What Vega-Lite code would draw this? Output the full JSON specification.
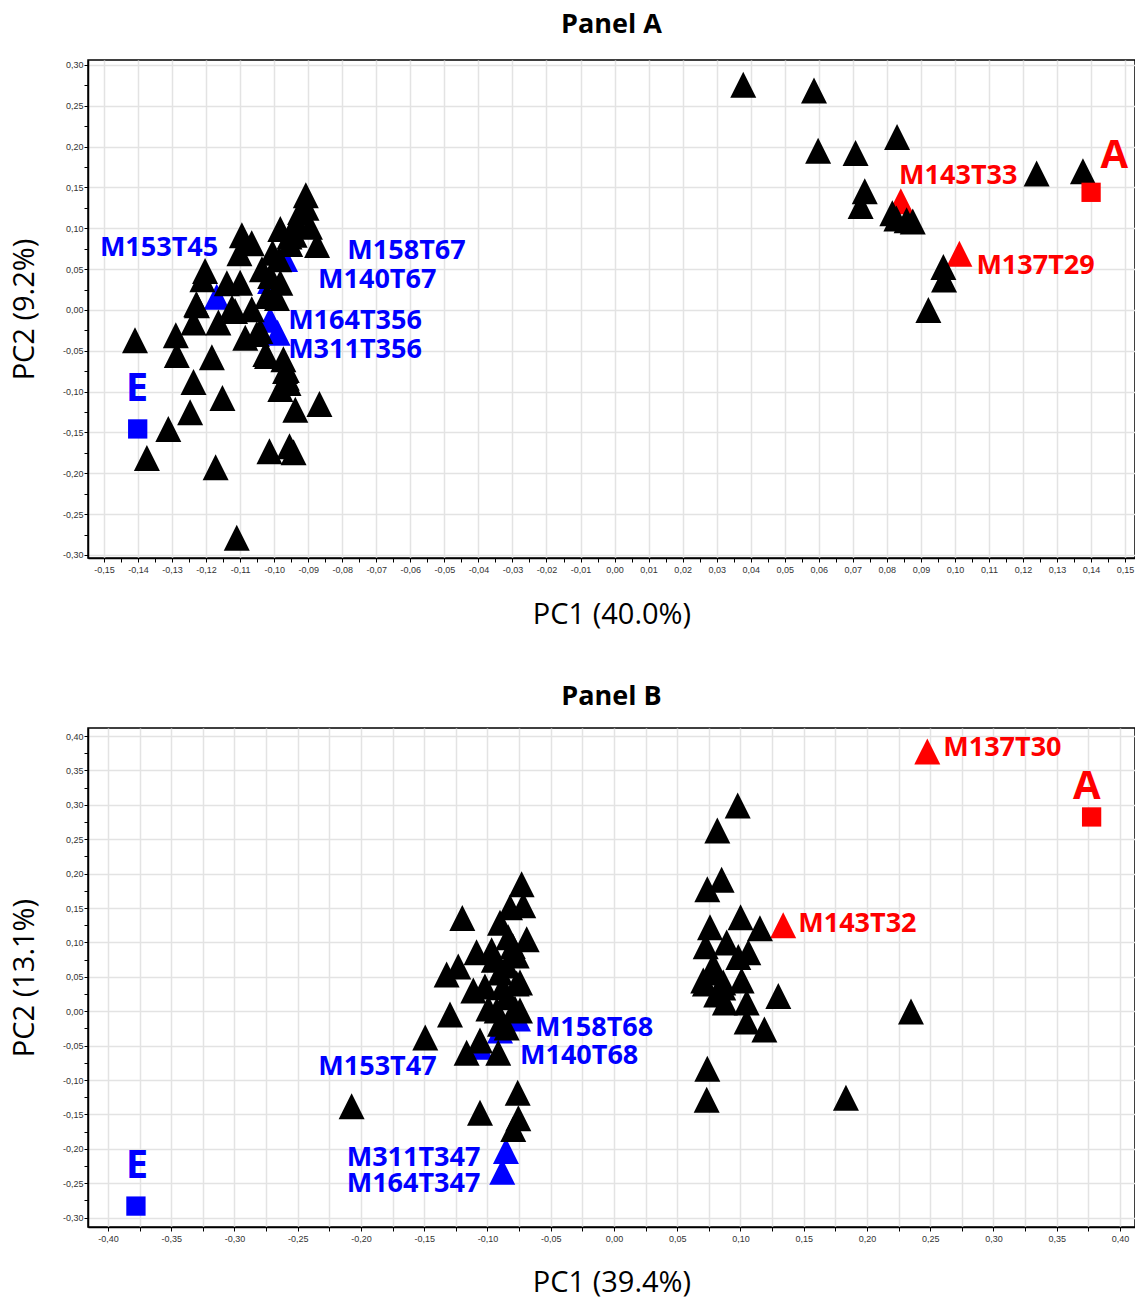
{
  "$schema": "https://vega.github.io/schema/vega-lite/v6.json",
  "background": "white",
  "padding": {"left": 9, "top": 10, "right": 0, "bottom": 0},
  "spacing": 52,
  "config": {
    "view": {"stroke": "black", "strokeWidth": 1.5},
    "axis": {
      "labelFont": "Liberation Sans", "labelFontSize": 9, "labelColor": "#333333",
      "labelPadding": 1, "labelOverlap": false, "labelFlush": false,
      "domainColor": "black", "domainWidth": 1.5,
      "tickColor": "black", "tickSize": 4, "tickWidth": 1,
      "gridColor": "#e3e3e3", "gridWidth": 1.5,
      "titleFont": "Open Sans", "titleFontSize": 29, "titleFontWeight": "normal", "titleColor": "black"
    },
    "axisX": {"titlePadding": 26, "labelPadding": 3},
    "axisY": {"titlePadding": 23},
    "title": {"font": "Open Sans", "fontSize": 27, "fontWeight": "bold", "color": "black"}
  },
  "datasets": {
    "pointsA": [
      {"pc1": 0.0378, "pc2": 0.2757, "group": "none", "type": "feature"},
      {"pc1": 0.0586, "pc2": 0.2686, "group": "none", "type": "feature"},
      {"pc1": 0.0598, "pc2": 0.1949, "group": "none", "type": "feature"},
      {"pc1": 0.0708, "pc2": 0.192, "group": "none", "type": "feature"},
      {"pc1": 0.083, "pc2": 0.2116, "group": "none", "type": "feature"},
      {"pc1": 0.124, "pc2": 0.1669, "group": "none", "type": "feature"},
      {"pc1": 0.1376, "pc2": 0.1699, "group": "none", "type": "feature"},
      {"pc1": 0.0735, "pc2": 0.1454, "group": "none", "type": "feature"},
      {"pc1": 0.0723, "pc2": 0.1272, "group": "none", "type": "feature"},
      {"pc1": 0.0816, "pc2": 0.1185, "group": "none", "type": "feature"},
      {"pc1": 0.0828, "pc2": 0.112, "group": "none", "type": "feature"},
      {"pc1": 0.0858, "pc2": 0.1099, "group": "none", "type": "feature"},
      {"pc1": 0.0876, "pc2": 0.1083, "group": "none", "type": "feature"},
      {"pc1": 0.0966, "pc2": 0.0525, "group": "none", "type": "feature"},
      {"pc1": 0.0968, "pc2": 0.0372, "group": "none", "type": "feature"},
      {"pc1": 0.0922, "pc2": 0.0, "group": "none", "type": "feature"},
      {"pc1": -0.1409, "pc2": -0.0371, "group": "none", "type": "feature"},
      {"pc1": -0.1289, "pc2": -0.031, "group": "none", "type": "feature"},
      {"pc1": -0.1286, "pc2": -0.0551, "group": "none", "type": "feature"},
      {"pc1": -0.1237, "pc2": -0.0882, "group": "none", "type": "feature"},
      {"pc1": -0.1247, "pc2": -0.1253, "group": "none", "type": "feature"},
      {"pc1": -0.1311, "pc2": -0.1457, "group": "none", "type": "feature"},
      {"pc1": -0.1374, "pc2": -0.1812, "group": "none", "type": "feature"},
      {"pc1": -0.1183, "pc2": -0.058, "group": "none", "type": "feature"},
      {"pc1": -0.1152, "pc2": -0.1078, "group": "none", "type": "feature"},
      {"pc1": -0.1172, "pc2": -0.1926, "group": "none", "type": "feature"},
      {"pc1": -0.111, "pc2": -0.2788, "group": "none", "type": "feature"},
      {"pc1": -0.1014, "pc2": -0.173, "group": "none", "type": "feature"},
      {"pc1": -0.0955, "pc2": -0.1669, "group": "none", "type": "feature"},
      {"pc1": -0.0943, "pc2": -0.1743, "group": "none", "type": "feature"},
      {"pc1": -0.0867, "pc2": -0.1151, "group": "none", "type": "feature"},
      {"pc1": -0.0938, "pc2": -0.1221, "group": "none", "type": "feature"},
      {"pc1": -0.0982, "pc2": -0.0967, "group": "none", "type": "feature"},
      {"pc1": -0.0968, "pc2": -0.0747, "group": "none", "type": "feature"},
      {"pc1": -0.0963, "pc2": -0.0829, "group": "none", "type": "feature"},
      {"pc1": -0.1021, "pc2": -0.0563, "group": "none", "type": "feature"},
      {"pc1": -0.1085, "pc2": -0.0339, "group": "none", "type": "feature"},
      {"pc1": -0.1041, "pc2": -0.0257, "group": "none", "type": "feature"},
      {"pc1": -0.1164, "pc2": -0.0155, "group": "none", "type": "feature"},
      {"pc1": -0.1237, "pc2": -0.0155, "group": "none", "type": "feature"},
      {"pc1": -0.1229, "pc2": 0.007, "group": "none", "type": "feature"},
      {"pc1": -0.1115, "pc2": -0.0012, "group": "none", "type": "feature"},
      {"pc1": -0.0907, "pc2": 0.1405, "group": "none", "type": "feature"},
      {"pc1": -0.0924, "pc2": 0.12, "group": "none", "type": "feature"},
      {"pc1": -0.0905, "pc2": 0.125, "group": "none", "type": "feature"},
      {"pc1": -0.0935, "pc2": 0.108, "group": "none", "type": "feature"},
      {"pc1": -0.0895, "pc2": 0.102, "group": "none", "type": "feature"},
      {"pc1": -0.094, "pc2": 0.092, "group": "none", "type": "feature"},
      {"pc1": -0.0955, "pc2": 0.09, "group": "none", "type": "feature"},
      {"pc1": -0.0874, "pc2": 0.0796, "group": "none", "type": "feature"},
      {"pc1": -0.0982, "pc2": 0.0992, "group": "none", "type": "feature"},
      {"pc1": -0.0953, "pc2": 0.0808, "group": "none", "type": "feature"},
      {"pc1": -0.1005, "pc2": 0.07, "group": "none", "type": "feature"},
      {"pc1": -0.0985, "pc2": 0.062, "group": "none", "type": "feature"},
      {"pc1": -0.1095, "pc2": 0.0914, "group": "none", "type": "feature"},
      {"pc1": -0.1066, "pc2": 0.0817, "group": "none", "type": "feature"},
      {"pc1": -0.1102, "pc2": 0.0694, "group": "none", "type": "feature"},
      {"pc1": -0.1203, "pc2": 0.0478, "group": "none", "type": "feature"},
      {"pc1": -0.1211, "pc2": 0.0376, "group": "none", "type": "feature"},
      {"pc1": -0.1139, "pc2": 0.0327, "group": "none", "type": "feature"},
      {"pc1": -0.11, "pc2": 0.0334, "group": "none", "type": "feature"},
      {"pc1": -0.1036, "pc2": 0.0498, "group": "none", "type": "feature"},
      {"pc1": -0.1012, "pc2": 0.0416, "group": "none", "type": "feature"},
      {"pc1": -0.0982, "pc2": 0.0334, "group": "none", "type": "feature"},
      {"pc1": -0.1227, "pc2": 0.0058, "group": "none", "type": "feature"},
      {"pc1": -0.1124, "pc2": 0.0028, "group": "none", "type": "feature"},
      {"pc1": -0.1066, "pc2": 0.0008, "group": "none", "type": "feature"},
      {"pc1": -0.1021, "pc2": 0.0171, "group": "none", "type": "feature"},
      {"pc1": -0.0992, "pc2": 0.0147, "group": "none", "type": "feature"},
      {"pc1": -0.1051, "pc2": -0.0294, "group": "none", "type": "feature"},
      {"pc1": -0.1026, "pc2": -0.0539, "group": "none", "type": "feature"},
      {"pc1": -0.0973, "pc2": -0.0604, "group": "none", "type": "feature"},
      {"pc1": -0.0963, "pc2": -0.0735, "group": "none", "type": "feature"},
      {"pc1": -0.0958, "pc2": -0.0894, "group": "none", "type": "feature"},
      {"pc1": 0.0841, "pc2": 0.1332, "group": "A", "type": "feature"},
      {"pc1": 0.1013, "pc2": 0.0688, "group": "A", "type": "feature"},
      {"pc1": -0.1169, "pc2": 0.016, "group": "E", "type": "feature"},
      {"pc1": -0.0968, "pc2": 0.0624, "group": "E", "type": "feature"},
      {"pc1": -0.1012, "pc2": 0.0355, "group": "E", "type": "feature"},
      {"pc1": -0.1012, "pc2": -0.012, "group": "E", "type": "feature"},
      {"pc1": -0.099, "pc2": -0.028, "group": "E", "type": "feature"},
      {"pc1": 0.14, "pc2": 0.144, "group": "A", "type": "reference"},
      {"pc1": -0.1401, "pc2": -0.1457, "group": "E", "type": "reference"}
    ],
    "labelsA": [
      {"pc1": -0.1512, "pc2": 0.0759, "label": "M153T45", "group": "E", "type": "feature"},
      {"pc1": -0.0785, "pc2": 0.0722, "label": "M158T67", "group": "E", "type": "feature"},
      {"pc1": -0.0871, "pc2": 0.0367, "label": "M140T67", "group": "E", "type": "feature"},
      {"pc1": -0.0959, "pc2": -0.0135, "label": "M164T356", "group": "E", "type": "feature"},
      {"pc1": -0.0959, "pc2": -0.049, "label": "M311T356", "group": "E", "type": "feature"},
      {"pc1": 0.0836, "pc2": 0.1634, "label": "M143T33", "group": "A", "type": "feature"},
      {"pc1": 0.1063, "pc2": 0.0543, "label": "M137T29", "group": "A", "type": "feature"},
      {"pc1": -0.1403, "pc2": -0.0967, "label": "E", "group": "E", "type": "reference"},
      {"pc1": 0.1468, "pc2": 0.1879, "label": "A", "group": "A", "type": "reference"}
    ],
    "pointsB": [
      {"pc1": -0.073, "pc2": 0.1847, "group": "none", "type": "feature"},
      {"pc1": -0.0717, "pc2": 0.154, "group": "none", "type": "feature"},
      {"pc1": -0.0822, "pc2": 0.151, "group": "none", "type": "feature"},
      {"pc1": -0.1199, "pc2": 0.1356, "group": "none", "type": "feature"},
      {"pc1": -0.0901, "pc2": 0.1286, "group": "none", "type": "feature"},
      {"pc1": -0.069, "pc2": 0.1045, "group": "none", "type": "feature"},
      {"pc1": -0.0836, "pc2": 0.1074, "group": "none", "type": "feature"},
      {"pc1": -0.08, "pc2": 0.095, "group": "none", "type": "feature"},
      {"pc1": -0.0967, "pc2": 0.0885, "group": "none", "type": "feature"},
      {"pc1": -0.1086, "pc2": 0.0856, "group": "none", "type": "feature"},
      {"pc1": -0.095, "pc2": 0.075, "group": "none", "type": "feature"},
      {"pc1": -0.1231, "pc2": 0.0652, "group": "none", "type": "feature"},
      {"pc1": -0.1323, "pc2": 0.0535, "group": "none", "type": "feature"},
      {"pc1": -0.0769, "pc2": 0.0812, "group": "none", "type": "feature"},
      {"pc1": -0.0848, "pc2": 0.0666, "group": "none", "type": "feature"},
      {"pc1": -0.0901, "pc2": 0.0564, "group": "none", "type": "feature"},
      {"pc1": -0.0743, "pc2": 0.0418, "group": "none", "type": "feature"},
      {"pc1": -0.0769, "pc2": 0.0404, "group": "none", "type": "feature"},
      {"pc1": -0.088, "pc2": 0.035, "group": "none", "type": "feature"},
      {"pc1": -0.1112, "pc2": 0.0302, "group": "none", "type": "feature"},
      {"pc1": -0.102, "pc2": 0.036, "group": "none", "type": "feature"},
      {"pc1": -0.0848, "pc2": 0.0204, "group": "none", "type": "feature"},
      {"pc1": -0.0993, "pc2": 0.0039, "group": "none", "type": "feature"},
      {"pc1": -0.0783, "pc2": 0.0039, "group": "none", "type": "feature"},
      {"pc1": -0.0927, "pc2": 0.001, "group": "none", "type": "feature"},
      {"pc1": -0.0743, "pc2": 0.001, "group": "none", "type": "feature"},
      {"pc1": -0.1296, "pc2": -0.0048, "group": "none", "type": "feature"},
      {"pc1": -0.0901, "pc2": -0.018, "group": "none", "type": "feature"},
      {"pc1": -0.0848, "pc2": -0.0238, "group": "none", "type": "feature"},
      {"pc1": -0.1492, "pc2": -0.0383, "group": "none", "type": "feature"},
      {"pc1": -0.1165, "pc2": -0.0602, "group": "none", "type": "feature"},
      {"pc1": -0.1059, "pc2": -0.0427, "group": "none", "type": "feature"},
      {"pc1": -0.0915, "pc2": -0.0602, "group": "none", "type": "feature"},
      {"pc1": -0.2074, "pc2": -0.1382, "group": "none", "type": "feature"},
      {"pc1": -0.1059, "pc2": -0.1477, "group": "none", "type": "feature"},
      {"pc1": -0.0761, "pc2": -0.1185, "group": "none", "type": "feature"},
      {"pc1": -0.0756, "pc2": -0.1557, "group": "none", "type": "feature"},
      {"pc1": -0.0796, "pc2": -0.171, "group": "none", "type": "feature"},
      {"pc1": 0.0978, "pc2": 0.2991, "group": "none", "type": "feature"},
      {"pc1": 0.0817, "pc2": 0.2627, "group": "none", "type": "feature"},
      {"pc1": 0.0851, "pc2": 0.191, "group": "none", "type": "feature"},
      {"pc1": 0.0738, "pc2": 0.1774, "group": "none", "type": "feature"},
      {"pc1": 0.1001, "pc2": 0.1366, "group": "none", "type": "feature"},
      {"pc1": 0.1154, "pc2": 0.1206, "group": "none", "type": "feature"},
      {"pc1": 0.0759, "pc2": 0.122, "group": "none", "type": "feature"},
      {"pc1": 0.0891, "pc2": 0.1001, "group": "none", "type": "feature"},
      {"pc1": 0.0725, "pc2": 0.0943, "group": "none", "type": "feature"},
      {"pc1": 0.1062, "pc2": 0.0856, "group": "none", "type": "feature"},
      {"pc1": 0.0983, "pc2": 0.0787, "group": "none", "type": "feature"},
      {"pc1": 0.0785, "pc2": 0.0666, "group": "none", "type": "feature"},
      {"pc1": 0.0785, "pc2": 0.0564, "group": "none", "type": "feature"},
      {"pc1": 0.0706, "pc2": 0.0448, "group": "none", "type": "feature"},
      {"pc1": 0.0719, "pc2": 0.0402, "group": "none", "type": "feature"},
      {"pc1": 0.0864, "pc2": 0.0418, "group": "none", "type": "feature"},
      {"pc1": 0.0864, "pc2": 0.0345, "group": "none", "type": "feature"},
      {"pc1": 0.1009, "pc2": 0.0448, "group": "none", "type": "feature"},
      {"pc1": 0.0808, "pc2": 0.0245, "group": "none", "type": "feature"},
      {"pc1": 0.0877, "pc2": 0.0127, "group": "none", "type": "feature"},
      {"pc1": 0.1049, "pc2": 0.0127, "group": "none", "type": "feature"},
      {"pc1": 0.1299, "pc2": 0.0222, "group": "none", "type": "feature"},
      {"pc1": 0.1049, "pc2": -0.015, "group": "none", "type": "feature"},
      {"pc1": 0.1189, "pc2": -0.0267, "group": "none", "type": "feature"},
      {"pc1": 0.2348, "pc2": -0.0004, "group": "none", "type": "feature"},
      {"pc1": 0.0738, "pc2": -0.0835, "group": "none", "type": "feature"},
      {"pc1": 0.0733, "pc2": -0.1287, "group": "none", "type": "feature"},
      {"pc1": 0.1834, "pc2": -0.1258, "group": "none", "type": "feature"},
      {"pc1": 0.1338, "pc2": 0.1249, "group": "A", "type": "feature"},
      {"pc1": 0.2477, "pc2": 0.3776, "group": "A", "type": "feature"},
      {"pc1": -0.0854, "pc2": -0.2031, "group": "E", "type": "feature"},
      {"pc1": -0.0883, "pc2": -0.2334, "group": "E", "type": "feature"},
      {"pc1": -0.0759, "pc2": -0.0106, "group": "E", "type": "feature"},
      {"pc1": -0.0901, "pc2": -0.0281, "group": "E", "type": "feature"},
      {"pc1": -0.1059, "pc2": -0.0515, "group": "E", "type": "feature"},
      {"pc1": 0.3776, "pc2": 0.2824, "group": "A", "type": "reference"},
      {"pc1": -0.3779, "pc2": -0.2832, "group": "E", "type": "reference"}
    ],
    "labelsB": [
      {"pc1": -0.0625, "pc2": -0.0238, "label": "M158T68", "group": "E", "type": "feature"},
      {"pc1": -0.0743, "pc2": -0.0646, "label": "M140T68", "group": "E", "type": "feature"},
      {"pc1": -0.2337, "pc2": -0.0816, "label": "M153T47", "group": "E", "type": "feature"},
      {"pc1": -0.2113, "pc2": -0.2128, "label": "M311T347", "group": "E", "type": "feature"},
      {"pc1": -0.2113, "pc2": -0.2512, "label": "M164T347", "group": "E", "type": "feature"},
      {"pc1": 0.1457, "pc2": 0.1274, "label": "M143T32", "group": "A", "type": "feature"},
      {"pc1": 0.2603, "pc2": 0.3825, "label": "M137T30", "group": "A", "type": "feature"},
      {"pc1": -0.3771, "pc2": -0.2251, "label": "E", "group": "E", "type": "reference"},
      {"pc1": 0.3737, "pc2": 0.3265, "label": "A", "group": "A", "type": "reference"}
    ]
  },
  "vconcat": [
    {
      "title": {"text": "Panel A", "offset": 21},
      "width": 1047,
      "height": 498,
      "encoding": {
        "x": {
          "field": "pc1", "type": "quantitative", "title": "PC1 (40.0%)",
          "scale": {"domain": [-0.1547, 0.1529], "nice": false, "zero": false},
          "axis": {
            "values": [-0.15,-0.145,-0.14,-0.135,-0.13,-0.125,-0.12,-0.115,-0.11,-0.105,-0.1,-0.095,-0.09,-0.085,-0.08,-0.075,-0.07,-0.065,-0.06,-0.055,-0.05,-0.045,-0.04,-0.035,-0.03,-0.025,-0.02,-0.015,-0.01,-0.005,0,0.005,0.01,0.015,0.02,0.025,0.03,0.035,0.04,0.045,0.05,0.055,0.06,0.065,0.07,0.075,0.08,0.085,0.09,0.095,0.1,0.105,0.11,0.115,0.12,0.125,0.13,0.135,0.14,0.145,0.15],
            "labelExpr": "abs(round(datum.value*1000)) % 10 == 0 ? replace(replace(format(datum.value, '.2f'), '.', ','), '−', '-') : ''",
            "gridOpacity": {"condition": {"test": "abs(round(datum.value*1000)) % 10 == 0", "value": 1}, "value": 0}
          }
        },
        "y": {
          "field": "pc2", "type": "quantitative", "title": "PC2 (9.2%)",
          "scale": {"domain": [-0.3037, 0.306], "nice": false, "zero": false},
          "axis": {
            "values": [-0.3,-0.275,-0.25,-0.225,-0.2,-0.175,-0.15,-0.125,-0.1,-0.075,-0.05,-0.025,0,0.025,0.05,0.075,0.1,0.125,0.15,0.175,0.2,0.225,0.25,0.275,0.3],
            "labelExpr": "abs(round(datum.value*1000)) % 50 == 0 ? replace(replace(format(datum.value, '.2f'), '.', ','), '−', '-') : ''",
            "gridOpacity": {"condition": {"test": "abs(round(datum.value*1000)) % 50 == 0", "value": 1}, "value": 0}
          }
        },
        "color": {"field": "group", "type": "nominal", "scale": {"domain": ["none", "A", "E"], "range": ["#000000", "#ff0000", "#0000ff"]}, "legend": null}
      },
      "layer": [
        {
          "mark": {"type": "rule", "color": "black", "strokeWidth": 1},
          "encoding": {"x": {"datum": -0.1547}, "x2": {"datum": 0.1529}, "y": {"datum": 0}, "color": {"value": "black"}}
        },
        {
          "mark": {"type": "rule", "color": "black", "strokeWidth": 1},
          "encoding": {"x": {"datum": 0}, "y": {"datum": -0.3037}, "y2": {"datum": 0.306}, "color": {"value": "black"}}
        },
        {
          "data": {"name": "pointsA"},
          "transform": [{"filter": "datum.type == 'feature' && datum.group != 'none'"}],
          "mark": {"type": "point", "shape": "M0,-1L1,1L-1,1Z", "filled": true, "size": 676, "opacity": 1, "strokeWidth": 0}
        },
        {
          "data": {"name": "pointsA"},
          "transform": [{"filter": "datum.type == 'feature' && datum.group == 'none'"}],
          "mark": {"type": "point", "shape": "M0,-1L1,1L-1,1Z", "filled": true, "size": 676, "opacity": 1, "strokeWidth": 0}
        },
        {
          "data": {"name": "pointsA"},
          "transform": [{"filter": "datum.type == 'reference'"}],
          "mark": {"type": "point", "shape": "square", "filled": true, "size": 372, "opacity": 1, "strokeWidth": 0}
        },
        {
          "data": {"name": "labelsA"},
          "transform": [{"filter": "datum.type == 'feature'"}],
          "mark": {"type": "text", "align": "left", "baseline": "middle", "font": "Open Sans", "fontWeight": "bold", "fontSize": 27},
          "encoding": {"text": {"field": "label"}}
        },
        {
          "data": {"name": "labelsA"},
          "transform": [{"filter": "datum.type == 'reference'"}],
          "mark": {"type": "text", "align": "center", "baseline": "middle", "font": "Open Sans", "fontWeight": "bold", "fontSize": 40},
          "encoding": {"text": {"field": "label"}}
        }
      ]
    },
    {
      "title": {"text": "Panel B", "offset": 17},
      "width": 1047,
      "height": 499,
      "encoding": {
        "x": {
          "field": "pc1", "type": "quantitative", "title": "PC1 (39.4%)",
          "scale": {"domain": [-0.4158, 0.4119], "nice": false, "zero": false},
          "axis": {
            "titlePadding": 25,
            "values": [-0.4,-0.375,-0.35,-0.325,-0.3,-0.275,-0.25,-0.225,-0.2,-0.175,-0.15,-0.125,-0.1,-0.075,-0.05,-0.025,0,0.025,0.05,0.075,0.1,0.125,0.15,0.175,0.2,0.225,0.25,0.275,0.3,0.325,0.35,0.375,0.4],
            "labelExpr": "abs(round(datum.value*1000)) % 50 == 0 ? replace(replace(format(datum.value, '.2f'), '.', ','), '−', '-') : ''"
          }
        },
        "y": {
          "field": "pc2", "type": "quantitative", "title": "PC2 (13.1%)",
          "scale": {"domain": [-0.3136, 0.4117], "nice": false, "zero": false},
          "axis": {
            "values": [-0.3,-0.275,-0.25,-0.225,-0.2,-0.175,-0.15,-0.125,-0.1,-0.075,-0.05,-0.025,0,0.025,0.05,0.075,0.1,0.125,0.15,0.175,0.2,0.225,0.25,0.275,0.3,0.325,0.35,0.375,0.4],
            "labelExpr": "abs(round(datum.value*1000)) % 50 == 0 ? replace(replace(format(datum.value, '.2f'), '.', ','), '−', '-') : ''",
            "gridOpacity": {"condition": {"test": "abs(round(datum.value*1000)) % 50 == 0", "value": 1}, "value": 0}
          }
        },
        "color": {"field": "group", "type": "nominal", "scale": {"domain": ["none", "A", "E"], "range": ["#000000", "#ff0000", "#0000ff"]}, "legend": null}
      },
      "layer": [
        {
          "mark": {"type": "rule", "color": "black", "strokeWidth": 1},
          "encoding": {"x": {"datum": -0.4158}, "x2": {"datum": 0.4119}, "y": {"datum": 0}, "color": {"value": "black"}}
        },
        {
          "mark": {"type": "rule", "color": "black", "strokeWidth": 1},
          "encoding": {"x": {"datum": 0}, "y": {"datum": -0.3136}, "y2": {"datum": 0.4117}, "color": {"value": "black"}}
        },
        {
          "data": {"name": "pointsB"},
          "transform": [{"filter": "datum.type == 'feature' && datum.group != 'none'"}],
          "mark": {"type": "point", "shape": "M0,-1L1,1L-1,1Z", "filled": true, "size": 676, "opacity": 1, "strokeWidth": 0}
        },
        {
          "data": {"name": "pointsB"},
          "transform": [{"filter": "datum.type == 'feature' && datum.group == 'none'"}],
          "mark": {"type": "point", "shape": "M0,-1L1,1L-1,1Z", "filled": true, "size": 676, "opacity": 1, "strokeWidth": 0}
        },
        {
          "data": {"name": "pointsB"},
          "transform": [{"filter": "datum.type == 'reference'"}],
          "mark": {"type": "point", "shape": "square", "filled": true, "size": 372, "opacity": 1, "strokeWidth": 0}
        },
        {
          "data": {"name": "labelsB"},
          "transform": [{"filter": "datum.type == 'feature'"}],
          "mark": {"type": "text", "align": "left", "baseline": "middle", "font": "Open Sans", "fontWeight": "bold", "fontSize": 27},
          "encoding": {"text": {"field": "label"}}
        },
        {
          "data": {"name": "labelsB"},
          "transform": [{"filter": "datum.type == 'reference'"}],
          "mark": {"type": "text", "align": "center", "baseline": "middle", "font": "Open Sans", "fontWeight": "bold", "fontSize": 40},
          "encoding": {"text": {"field": "label"}}
        }
      ]
    }
  ]
}
